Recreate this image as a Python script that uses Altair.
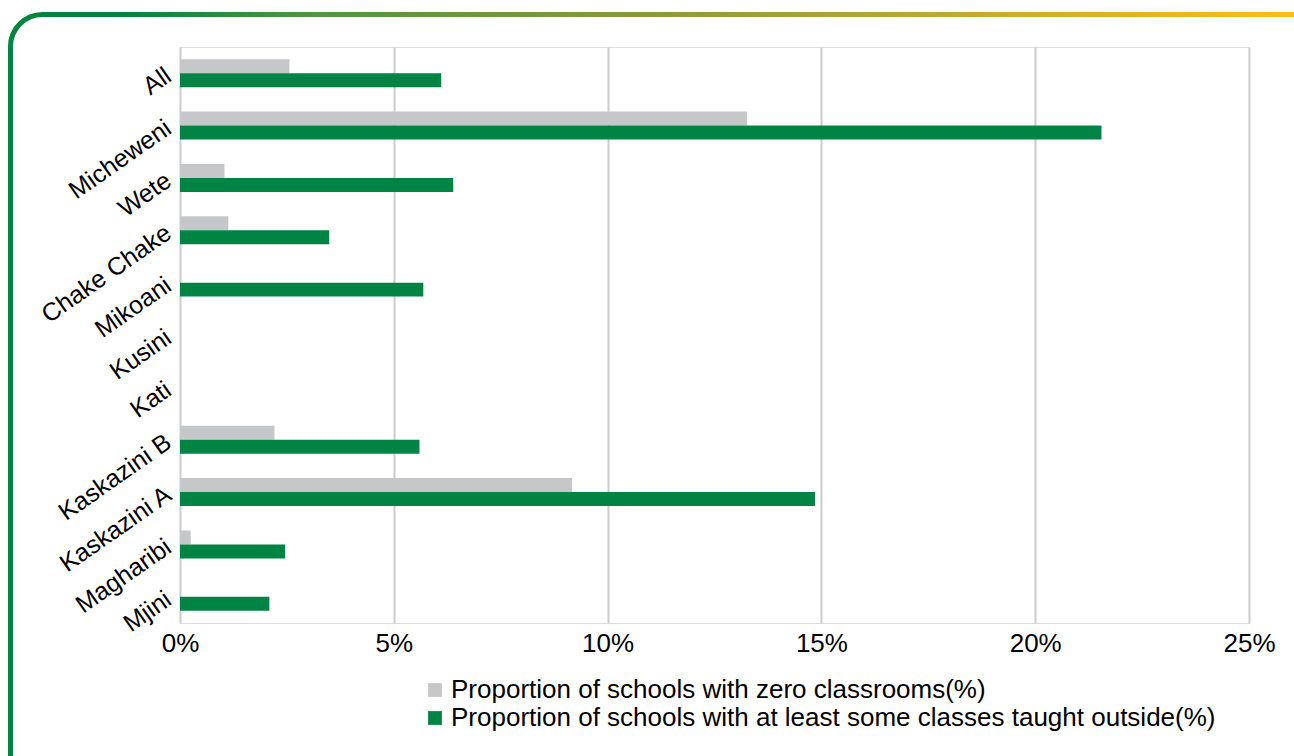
import altair as alt
import pandas as pd

districts = ["All", "Micheweni", "Wete", "Chake Chake", "Mikoani", "Kusini",
             "Kati", "Kaskazini B", "Kaskazini A", "Magharibi", "Mjini"]
zero_classrooms = [2.56, 13.26, 1.04, 1.13, 0.0, 0.0, 0.0, 2.21, 9.17, 0.25, 0.0]
taught_outside = [6.11, 21.55, 6.39, 3.49, 5.69, 0.0, 0.0, 5.60, 14.85, 2.46, 2.09]
series_names = ["Proportion of schools with zero classrooms(%)",
                "Proportion of schools with at least some classes taught outside(%)"]
series_colors = ["#C6C7C9", "#008444"]
x_ticks = [0, 0.05, 0.10, 0.15, 0.20, 0.25]

rows = []
for d, a, b in zip(districts, zero_classrooms, taught_outside):
    rows.append({"district": d, "series": series_names[0], "value": a / 100})
    rows.append({"district": d, "series": series_names[1], "value": b / 100})
df = pd.DataFrame(rows)

FONT = "Liberation Sans"

bars = alt.Chart(df).mark_bar().encode(
    y=alt.Y("district:N", sort=districts, title=None,
            scale=alt.Scale(paddingInner=0.466, paddingOuter=0.233),
            axis=alt.Axis(labelAngle=-35, labelAlign="right", labelBaseline="middle",
                          labelFontSize=25, labelFont=FONT, labelColor="#000000",
                          ticks=False, domain=False, grid=False, labelPadding=12)),
    yOffset=alt.YOffset("series:N", sort=series_names),
    x=alt.X("value:Q", title=None,
            scale=alt.Scale(domain=[0, 0.25], nice=False),
            axis=alt.Axis(values=x_ticks, format=".0%", labelFontSize=26, labelFont=FONT,
                          labelColor="#000000", ticks=False, domain=False, grid=True,
                          labelFlush=False,
                          gridColor="#CCCCCC", gridWidth=2, labelPadding=7)),
    color=alt.Color("series:N", sort=series_names,
                    scale=alt.Scale(domain=series_names, range=series_colors),
                    legend=alt.Legend(title=None, orient="none", legendX=242, legendY=630,
                                      symbolType="square", symbolSize=190,
                                      symbolStrokeWidth=0,
                                      labelFontSize=26, labelFont=FONT, labelColor="#000000",
                                      labelLimit=900, rowPadding=2, labelOffset=3)),
)

frame = alt.Chart(pd.DataFrame({"k": [0]})).mark_rect(
    cornerRadius=32, fillOpacity=0, strokeWidth=5,
    stroke=alt.Gradient(
        gradient="linear", x1=0, x2=1, y1=0, y2=0,
        stops=[alt.GradientStop(offset=0, color="#00843F"),
               alt.GradientStop(offset=0.08, color="#00843F"),
               alt.GradientStop(offset=0.21, color="#4F9444"),
               alt.GradientStop(offset=0.46, color="#8A9B3A"),
               alt.GradientStop(offset=0.71, color="#C8AD2E"),
               alt.GradientStop(offset=0.92, color="#FCBE14"),
               alt.GradientStop(offset=1, color="#FFC010")]),
).encode(x=alt.value(-169.5), x2=alt.value(1220), y=alt.value(-32.5), y2=alt.value(900))

chart = alt.layer(frame, bars).properties(
    width=1069, height=576,
    autosize=alt.AutoSizeParams(type="none"),
    padding={"left": 180, "top": 47, "right": 45, "bottom": 133},
).configure_view(stroke=None).configure(background="white")

chart.save("out.html", embed_options={"renderer": "svg", "actions": False})
